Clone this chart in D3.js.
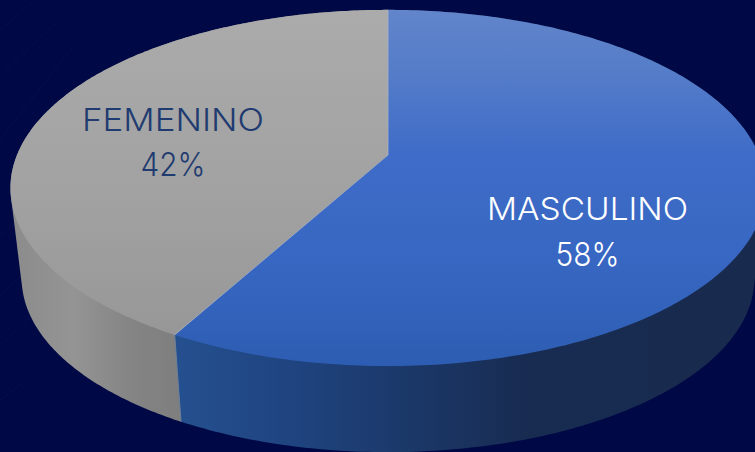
<!DOCTYPE html>
<html><head><meta charset="utf-8">
<script src="https://cdnjs.cloudflare.com/ajax/libs/d3/7.8.5/d3.min.js"></script>
<style>html,body{margin:0;padding:0;background:#000845;overflow:hidden}svg{display:block}
text{font-family:Inter,"Open Sans",sans-serif;font-weight:300;font-size:30.5px;text-anchor:middle}
text.pct{font-size:32.5px}</style>
</head><body><svg id="c" width="755" height="452"></svg>
<script>
const categories = ["MASCULINO", "FEMENINO"];
const values = [58, 42];
const labels = ["58%", "42%"];

const svg = d3.select("#c");
const W = 755, H = 452;
svg.append("rect").attr("width", W).attr("height", H).attr("fill", "#000845");

// faint background streaks
const streaks = [[0,30,35,0],[0,75,55,24],[0,140,72,48],[0,235,70,185],[0,345,30,318],[0,295,42,258],[0,400,24,382]];
svg.append("g").selectAll("line").data(streaks).join("line")
  .attr("x1", d=>d[0]).attr("y1", d=>d[1]).attr("x2", d=>d[2]).attr("y2", d=>d[3])
  .attr("stroke", "#0b1657").attr("stroke-width", 1).attr("opacity", .5);

const defs = svg.append("defs");
function grad(id, x1, y1, x2, y2, stops) {
  const g = defs.append("linearGradient").attr("id", id).attr("gradientUnits", "userSpaceOnUse")
    .attr("x1", x1).attr("y1", y1).attr("x2", x2).attr("y2", y2);
  stops.forEach(s => g.append("stop").attr("offset", s[0]).attr("stop-color", s[1]));
}
grad("topM", 0, 10, 0, 366, [[0,"#6285cb"],[.18,"#547cc8"],[.4,"#3f6cc8"],[.7,"#3767c2"],[1,"#2d5db2"]]);
grad("topF", 0, 10, 0, 366, [[0,"#ababab"],[.5,"#a2a2a2"],[1,"#959595"]]);
grad("sideM", 175, 0, 755, 0, [[0,"#25508f"],[.2,"#1f4480"],[.4,"#1b3869"],[.6,"#182c52"],[1,"#182a4d"]]);
grad("sideF", 15, 0, 182, 0, [[0,"#8c8c8c"],[.35,"#949494"],[.7,"#848484"],[1,"#7e7e7e"]]);

// perspective projection of a flat disc
const K = -0.185;
function rim(cx, cy, a, b) {
  return t => {
    const u = Math.sin(t), v = -Math.cos(t), w = 1 + K * v;
    return [cx + a * u / w, cy + b * v / w];
  };
}
const topRim = rim(388, 155, 371, 172);
const baseRim = rim(388, 246, 360, 168);
const apex = [388, 155];

const pie = d3.pie().sort(null).value(d => d);
const arcs = pie(values);
const sample = (a, b) => d3.range(0, 241).map(i => a + (b - a) * i / 240);
const path = d3.line();
const topFill = ["url(#topM)", "url(#topF)"];
const sideFill = ["url(#sideM)", "url(#sideF)"];

// side walls: hull of each slice's upper and lower rim, later slice first
svg.append("g").selectAll("path").data(arcs.slice().reverse()).join("path")
  .attr("d", d => {
    const ts = sample(d.startAngle, d.endAngle);
    return path(d3.polygonHull(ts.map(topRim).concat(ts.map(baseRim)))) + "Z";
  })
  .attr("fill", d => sideFill[d.index]);

// light seam on the front wall
const seam = arcs[1].startAngle;
svg.append("line")
  .attr("x1", topRim(seam)[0]).attr("y1", topRim(seam)[1])
  .attr("x2", baseRim(seam)[0]).attr("y2", baseRim(seam)[1])
  .attr("stroke", "#6f8098").attr("stroke-width", 1);

// top faces
svg.append("g").selectAll("path").data(arcs).join("path")
  .attr("d", d => path([apex].concat(sample(d.startAngle, d.endAngle).map(topRim))) + "Z")
  .attr("fill", (d, i) => topFill[i]);

// light seam between faces
svg.append("path").attr("d", path([topRim(0), apex, topRim(seam)]))
  .attr("fill", "none").attr("stroke", "#a9b2c4").attr("stroke-width", .8);

// labels
const labelPos = [[587.5, 220, 266], [173, 131, 176]];
const nameWidth = [201, 182];
const pctWidth = [64, 65];
const labelCol = ["#ffffff", "#1f3b70"];
const g = svg.append("g");
categories.forEach((c, i) => {
  g.append("text").attr("x", labelPos[i][0]).attr("y", labelPos[i][1]).attr("fill", labelCol[i])
    .attr("textLength", nameWidth[i]).attr("lengthAdjust", "spacingAndGlyphs").text(c);
  g.append("text").attr("class", "pct").attr("x", labelPos[i][0]).attr("y", labelPos[i][2]).attr("fill", labelCol[i])
    .attr("textLength", pctWidth[i]).attr("lengthAdjust", "spacingAndGlyphs").text(labels[i]);
});
</script></body></html>
